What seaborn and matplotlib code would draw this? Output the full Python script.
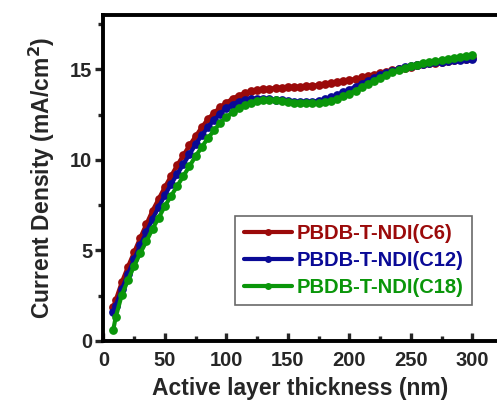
import matplotlib
matplotlib.use("Agg")
import matplotlib.pyplot as plt
import seaborn as sns
import pandas as pd
from matplotlib.ticker import MultipleLocator

sns.set_style("ticks")
plt.rcParams['font.family'] = ['Liberation Sans', 'DejaVu Sans']
plt.rcParams['font.weight'] = 'bold'

thickness = [8, 10, 15, 20, 25, 30, 35, 40, 45, 50, 55, 60, 65, 70, 75, 80, 85, 90, 95,
             100, 105, 110, 115, 120, 125, 130, 135, 140, 145, 150, 155, 160, 165, 170,
             175, 180, 185, 190, 195, 200, 205, 210, 215, 220, 225, 230, 235, 240, 245,
             250, 255, 260, 265, 270, 275, 280, 285, 290, 295, 300]

c6 = [1.85, 2.25, 3.25, 4.1, 4.9, 5.7, 6.45, 7.2, 7.85, 8.5, 9.1, 9.7, 10.25, 10.8, 11.3,
      11.8, 12.25, 12.6, 12.9, 13.15, 13.38, 13.55, 13.68, 13.78, 13.85, 13.9, 13.93, 13.96,
      13.98, 14.0, 14.02, 14.04, 14.07, 14.1, 14.13, 14.17, 14.22, 14.27, 14.33, 14.4,
      14.47, 14.55, 14.63, 14.71, 14.79, 14.87, 14.95, 15.02, 15.09, 15.15, 15.21, 15.27,
      15.32, 15.37, 15.42, 15.46, 15.5, 15.54, 15.58, 15.62]

c12 = [1.6, 1.95, 2.85, 3.7, 4.5, 5.3, 6.0, 6.75, 7.4, 8.05, 8.65, 9.2, 9.75, 10.3, 10.85,
       11.35, 11.8, 12.2, 12.55, 12.85, 13.05, 13.2, 13.3, 13.35, 13.37, 13.37, 13.35, 13.32,
       13.28, 13.24, 13.21, 13.19, 13.19, 13.21, 13.26, 13.34, 13.45, 13.58, 13.73, 13.88,
       14.04, 14.2, 14.36, 14.52, 14.67, 14.8, 14.92, 15.02, 15.1, 15.17, 15.23, 15.28,
       15.33, 15.38, 15.42, 15.46, 15.5, 15.53, 15.56, 15.58]

c18 = [0.6, 1.3, 2.55, 3.35, 4.15, 4.85, 5.5, 6.2, 6.8, 7.45, 8.0, 8.55, 9.1, 9.65, 10.2,
       10.7, 11.2, 11.62, 12.05, 12.35, 12.62, 12.85, 13.02, 13.15, 13.25, 13.3, 13.3, 13.28,
       13.24, 13.2, 13.16, 13.13, 13.11, 13.11, 13.13, 13.18, 13.26, 13.37, 13.5, 13.65,
       13.82, 14.0, 14.18, 14.36, 14.53, 14.69, 14.83, 14.96, 15.07, 15.16, 15.24, 15.32,
       15.39, 15.45, 15.5, 15.56, 15.61, 15.66, 15.71, 15.76]

labels = ["PBDB-T-NDI(C6)", "PBDB-T-NDI(C12)", "PBDB-T-NDI(C18)"]
colors = ["#9B0A0A", "#0A0A96", "#0A960A"]

df = pd.concat([
    pd.DataFrame({"x": thickness, "y": vals, "s": lab})
    for vals, lab in zip([c6, c12, c18], labels)
])

fig = plt.figure(figsize=(4.97, 4.03), dpi=100)
ax = fig.add_axes([0.208, 0.154, 0.792, 0.809])

sns.lineplot(data=df, x="x", y="y", hue="s", palette=colors, marker="o",
             markersize=6.3, markeredgewidth=0, linewidth=3.0, ax=ax,
             sort=False, estimator=None)

ax.set_xlim(0, 320)
ax.set_ylim(0, 18)
ax.xaxis.set_major_locator(MultipleLocator(50))
ax.xaxis.set_minor_locator(MultipleLocator(25))
ax.yaxis.set_major_locator(MultipleLocator(5))
ax.yaxis.set_minor_locator(MultipleLocator(2.5))

for side in ["left", "bottom", "top"]:
    ax.spines[side].set_linewidth(2.8)
    ax.spines[side].set_color("black")
ax.spines["right"].set_visible(False)

ax.tick_params(axis="x", which="both", direction="in", width=2.4, pad=7)
ax.tick_params(axis="x", which="major", length=6)
ax.tick_params(axis="x", which="minor", length=3.5)
ax.tick_params(axis="y", which="both", direction="out", width=2.4, pad=2)
ax.tick_params(axis="y", which="major", length=6)
ax.tick_params(axis="y", which="minor", length=3.5)
ax.tick_params(labelsize=14.5)
for t in ax.get_xticklabels() + ax.get_yticklabels():
    t.set_fontweight("bold")

ax.set_xlabel("Active layer thickness (nm)", fontsize=16.5, fontweight="bold", labelpad=5)
ax.set_ylabel("Current Density (mA/cm$^\\mathbf{2}$)", fontsize=16.5, fontweight="bold", labelpad=9)

leg = ax.legend(loc="lower right", bbox_to_anchor=(0.936, 0.11), frameon=True,
                fancybox=False, edgecolor="#444444", fontsize=14.5, handlelength=2.4,
                borderpad=0.4, labelspacing=0.4, handletextpad=0.25, borderaxespad=0.0)
leg.get_frame().set_linewidth(1.2)
for text, col in zip(leg.get_texts(), colors):
    text.set_color(col)
    text.set_fontweight("bold")
for line in leg.get_lines():
    line.set_linewidth(3.0)
    line.set_markersize(5)

fig.savefig("out.png", dpi=100)
